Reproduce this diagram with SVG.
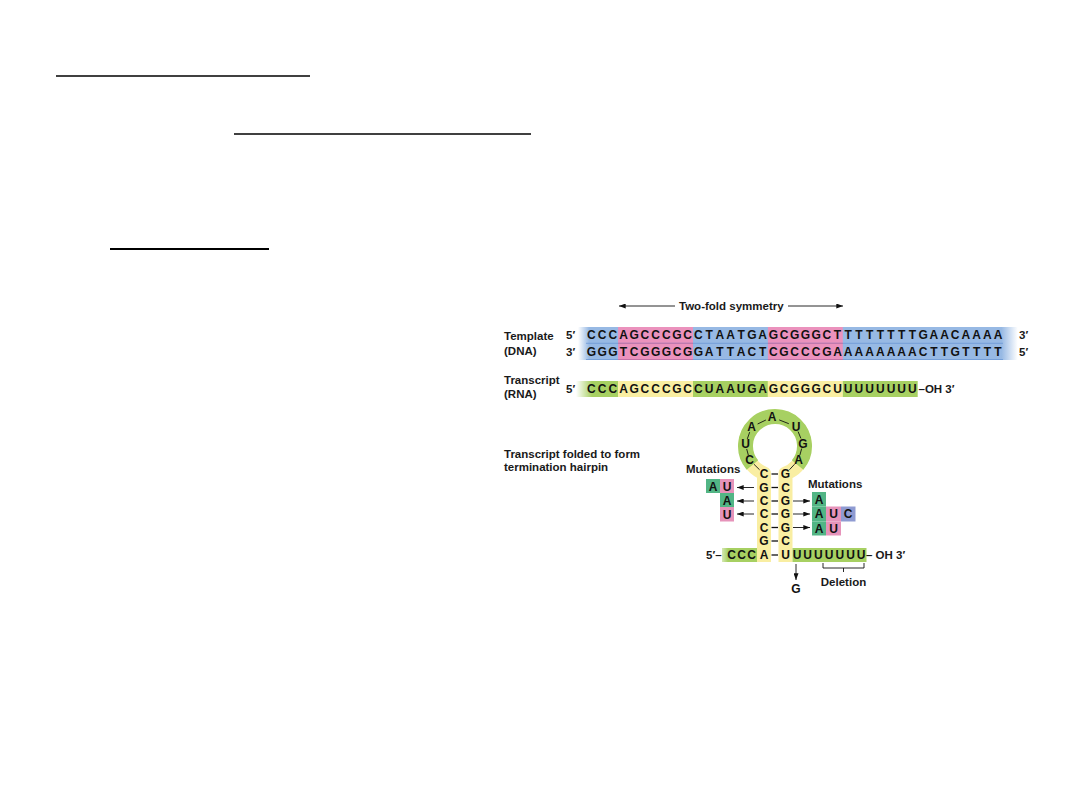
<svg xmlns="http://www.w3.org/2000/svg" width="1080" height="810" viewBox="0 0 1080 810">
<style>
.lbl{font-family:"Liberation Sans",Arial,sans-serif;font-weight:bold;font-size:11.5px;fill:#1a1a1a}
.seq{font-family:"Liberation Sans",Arial,sans-serif;font-weight:bold;font-size:12px;fill:#111;text-anchor:middle}
.mid{text-anchor:middle}
.ln{stroke:#111;stroke-width:0.9;fill:none}
.arw{stroke:#111;stroke-width:0.9;fill:none;marker-end:url(#ah)}
.bond{stroke:#111;stroke-width:1.3}
.blue{fill:#97b9e4}
.pink{fill:#eb92bd}
.grn{fill:#a7d062}
.yel{fill:#f9eea2}
.mg{fill:#52b585}
.mp{fill:#e693ba}
.mv{fill:#8f9bd2}
.ul{stroke:#000;fill:none}
</style>
<defs>
<marker id="ah" viewBox="0 0 8 6" refX="8" refY="3" markerWidth="7" markerHeight="5" markerUnits="userSpaceOnUse" orient="auto"><path d="M0,0 L8,3 L0,6 z" fill="#111"/></marker>
<linearGradient id="dnaFade" gradientUnits="userSpaceOnUse" x1="578" y1="0" x2="1020" y2="0">
<stop offset="0" stop-color="#97b9e4" stop-opacity="0"/>
<stop offset="0.025" stop-color="#97b9e4" stop-opacity="1"/>
<stop offset="0.958" stop-color="#97b9e4" stop-opacity="1"/>
<stop offset="0.995" stop-color="#97b9e4" stop-opacity="0"/>
</linearGradient>
<linearGradient id="rnaFade" gradientUnits="userSpaceOnUse" x1="576" y1="0" x2="592" y2="0">
<stop offset="0" stop-color="#a7d062" stop-opacity="0"/>
<stop offset="1" stop-color="#a7d062" stop-opacity="1"/>
</linearGradient>
<linearGradient id="ccaFade" gradientUnits="userSpaceOnUse" x1="720" y1="0" x2="728" y2="0">
<stop offset="0" stop-color="#a7d062" stop-opacity="0.3"/>
<stop offset="1" stop-color="#a7d062" stop-opacity="1"/>
</linearGradient>
</defs>
<rect width="1080" height="810" fill="#fff"/>

<g id="underlines">
<line class="ul" x1="56" y1="76" x2="310" y2="76" stroke-width="1.6"/>
<line class="ul" x1="234" y1="134" x2="531" y2="134" stroke-width="1.6"/>
<line class="ul" x1="110" y1="249" x2="269" y2="249" stroke-width="2"/>
</g>

<g id="symmetry-label">
<text class="lbl" x="679" y="310">Two-fold symmetry</text>
</g>

<g id="dna-template">
<rect x="578" y="327" width="442" height="33" fill="url(#dnaFade)"/>
<rect class="pink" x="618.1" y="327" width="74.9" height="33"/>
<rect class="pink" x="767.9" y="327" width="74.9" height="33"/>
<line x1="586" y1="343.3" x2="1003" y2="343.3" stroke="#6c98d4" stroke-width="0.8"/>
<line x1="618.1" y1="343.3" x2="693" y2="343.3" stroke="#d4699c" stroke-width="0.8"/>
<line x1="767.9" y1="343.3" x2="842.8" y2="343.3" stroke="#d4699c" stroke-width="0.8"/>
<line x1="586" y1="359.5" x2="1003" y2="359.5" stroke="#6c98d4" stroke-width="0.8"/>
<line x1="618.1" y1="359.5" x2="693" y2="359.5" stroke="#d4699c" stroke-width="0.8"/>
<line x1="767.9" y1="359.5" x2="842.8" y2="359.5" stroke="#d4699c" stroke-width="0.8"/>
<text class="seq" y="339.4" x="591.4 602.1 612.8 623.5 634.2 644.9 655.6 666.3 677 687.7 698.4 709.1 719.8 730.5 741.2 751.9 762.6 773.3 784 794.7 805.4 816.1 826.8 837.5 848.2 858.9 869.6 880.3 891 901.7 912.4 923.1 933.8 944.5 955.2 965.9 976.6 987.3 998">CCCAGCCCGCCTAATGAGCGGGCTTTTTTTTGAACAAAA</text>
<text class="seq" y="355.6" x="591.4 602.1 612.8 623.5 634.2 644.9 655.6 666.3 677 687.7 698.4 709.1 719.8 730.5 741.2 751.9 762.6 773.3 784 794.7 805.4 816.1 826.8 837.5 848.2 858.9 869.6 880.3 891 901.7 912.4 923.1 933.8 944.5 955.2 965.9 976.6 987.3 998">GGGTCGGGCGGATTACTCGCCCGAAAAAAAACTTGTTTT</text>
<text class="lbl" x="504" y="340">Template</text>
<text class="lbl" x="504" y="355">(DNA)</text>
<text class="lbl" x="566" y="339.4">5′</text>
<text class="lbl" x="566" y="355.6">3′</text>
<text class="lbl" x="1019" y="339.4">3′</text>
<text class="lbl" x="1019" y="355.6">5′</text>
</g>

<g id="rna-transcript">
<rect x="576" y="381" width="42.1" height="16" fill="url(#rnaFade)"/>
<rect class="yel" x="618.1" y="381" width="74.9" height="16"/>
<rect class="grn" x="693" y="381" width="74.9" height="16"/>
<rect class="yel" x="767.9" y="381" width="74.9" height="16"/>
<rect class="grn" x="842.8" y="381" width="74.9" height="16"/>
<text class="seq" y="393.4" x="591.4 602.1 612.8 623.5 634.2 644.9 655.6 666.3 677 687.7 698.4 709.1 719.8 730.5 741.2 751.9 762.6 773.3 784 794.7 805.4 816.1 826.8 837.5 848.2 858.9 869.6 880.3 891 901.7 912.4">CCCAGCCCGCCUAAUGAGCGGGCUUUUUUUU</text>
<text class="lbl" x="918.5" y="393.4" font-size="12">–OH 3′</text>
<text class="lbl" x="504" y="384">Transcript</text>
<text class="lbl" x="504" y="397.5">(RNA)</text>
<text class="lbl" x="566" y="393.4">5′</text>
</g>

<g id="hairpin">
<path d="M764,562 L764,473.4 A29.5,29.5 0 1 1 785.5,473.6 L785.5,562" fill="none" stroke="#f9eea2" stroke-width="14" stroke-linejoin="round"/>
<path d="M752.4,465 A29.5,29.5 0 1 1 797.6,465" fill="none" stroke="#a7d062" stroke-width="15"/>
<rect x="722" y="548" width="35" height="14" fill="url(#ccaFade)"/>
<rect class="grn" x="792.5" y="548" width="74" height="14"/>
<g class="ln">
<line x1="759.6" y1="469.8" x2="753.9" y2="464.2"/>
<line x1="748.3" y1="455" x2="746.7" y2="449"/>
<line x1="747.3" y1="438.9" x2="749.7" y2="432.1"/>
<line x1="757.6" y1="424" x2="765.9" y2="420"/>
<line x1="779.2" y1="419.9" x2="788.8" y2="423.7"/>
<line x1="798.1" y1="431.6" x2="800.9" y2="438.4"/>
<line x1="801.7" y1="448.5" x2="799.9" y2="455"/>
<line x1="794.6" y1="464.2" x2="789.4" y2="469.8"/>
</g>
<text class="seq" x="749.5" y="464.3">C</text>
<text class="seq" x="745.5" y="448.3">U</text>
<text class="seq" x="751.5" y="431.3">A</text>
<text class="seq" x="772" y="421.3">A</text>
<text class="seq" x="796" y="430.8">U</text>
<text class="seq" x="803" y="447.8">G</text>
<text class="seq" x="798.5" y="464.3">A</text>
<text class="seq" x="764" y="478.3">C</text>
<text class="seq" x="764" y="491.8">G</text>
<text class="seq" x="764" y="505.3">C</text>
<text class="seq" x="764" y="518.3">C</text>
<text class="seq" x="764" y="531.8">C</text>
<text class="seq" x="764" y="545.3">G</text>
<text class="seq" x="764" y="559.3">A</text>
<text class="seq" x="785.5" y="478.3">G</text>
<text class="seq" x="785.5" y="491.8">C</text>
<text class="seq" x="785.5" y="505.3">G</text>
<text class="seq" x="785.5" y="518.3">G</text>
<text class="seq" x="785.5" y="531.8">G</text>
<text class="seq" x="785.5" y="545.3">C</text>
<text class="seq" x="785.5" y="559.3">U</text>
<g class="bond">
<line x1="771.5" y1="474" x2="778" y2="474"/>
<line x1="771.5" y1="487.5" x2="778" y2="487.5"/>
<line x1="771.5" y1="501" x2="778" y2="501"/>
<line x1="771.5" y1="514" x2="778" y2="514"/>
<line x1="771.5" y1="527.5" x2="778" y2="527.5"/>
<line x1="771.5" y1="541" x2="778" y2="541"/>
<line x1="771.5" y1="555" x2="778" y2="555"/>
</g>
<text class="lbl" x="706" y="559.3" font-size="12">5′–</text>
<text class="seq" y="559.3" x="731.5 741.5 751.5">CCC</text>
<text class="seq" y="559.3" x="797 807.7 818.4 829.1 839.8 850.5 861.2">UUUUUUU</text>
<text class="lbl" x="866" y="559.3" font-size="12">– OH 3′</text>
<text class="lbl" x="504" y="457.5">Transcript folded to form</text>
<text class="lbl" x="504" y="470.5">termination hairpin</text>
</g>

<g id="mutations-left">
<text class="lbl" x="686" y="473">Mutations</text>
<rect class="mg" x="706" y="479" width="14" height="14"/>
<rect class="mp" x="720" y="479" width="14" height="14"/>
<rect class="mg" x="720" y="493" width="14" height="14"/>
<rect class="mp" x="720" y="507" width="14" height="14.5"/>
<text class="seq" x="713" y="491.3">A</text>
<text class="seq" x="727" y="491.3">U</text>
<text class="seq" x="727" y="505.3">A</text>
<text class="seq" x="727" y="518.8">U</text>
</g>

<g id="mutations-right">
<text class="lbl" x="808" y="487.5">Mutations</text>
<rect class="mg" x="812" y="492" width="14" height="14.5"/>
<rect class="mg" x="812" y="506.5" width="14" height="15"/>
<rect class="mp" x="826" y="506.5" width="15" height="15"/>
<rect class="mv" x="841" y="506.5" width="14.5" height="15"/>
<rect class="mg" x="812" y="521.5" width="14" height="14"/>
<rect class="mp" x="826" y="521.5" width="15" height="14"/>
<text class="seq" x="819" y="503.5">A</text>
<text class="seq" x="819" y="518.3">A</text>
<text class="seq" x="833.5" y="518.3">U</text>
<text class="seq" x="848" y="518.3">C</text>
<text class="seq" x="819" y="532.8">A</text>
<text class="seq" x="833.5" y="532.8">U</text>
</g>

<g id="deletion">
<path class="ln" d="M823,563 L823,568 L864,568 L864,563 M843.5,568 L843.5,572"/>
<text class="lbl mid" x="843.5" y="586">Deletion</text>
</g>

<g id="g-mutation">
<text class="seq" x="796" y="592.5">G</text>
</g>

<g id="connectors">
<line class="arw" x1="675" y1="306" x2="619" y2="306"/>
<line class="arw" x1="788" y1="306" x2="843" y2="306"/>
<line class="arw" x1="754" y1="487.5" x2="737" y2="487.5"/>
<line class="arw" x1="754" y1="501" x2="737" y2="501"/>
<line class="arw" x1="754" y1="514" x2="737" y2="514"/>
<line class="arw" x1="793" y1="501" x2="810" y2="501"/>
<line class="arw" x1="793" y1="514" x2="810" y2="514"/>
<line class="arw" x1="793" y1="527.5" x2="810" y2="527.5"/>
<line class="arw" x1="796" y1="564" x2="796" y2="580"/>
</g>
</svg>
